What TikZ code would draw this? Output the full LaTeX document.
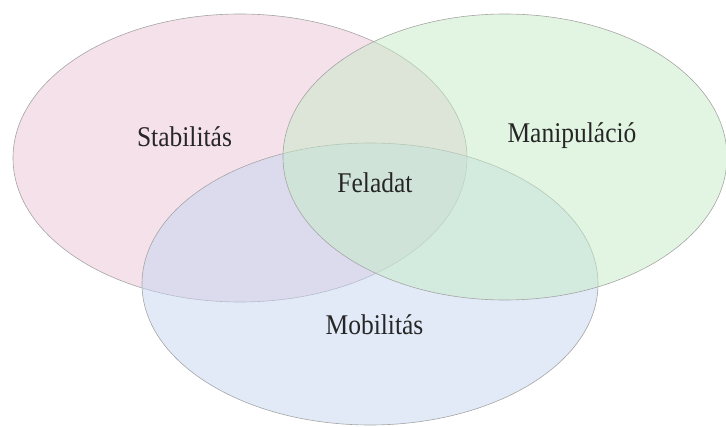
\documentclass[tikz,border=0pt]{standalone}
\usepackage{fontspec}
\setmainfont{Liberation Serif}
\definecolor{stabfill}{RGB}{235,195,213}
\definecolor{manfill}{RGB}{197,235,197}
\definecolor{mobfill}{RGB}{197,213,242}
\definecolor{vennline}{RGB}{165,165,165}
\newcommand{\talltext}[1]{\scalebox{1}[1.12]{#1}}
\tikzset{
  venn/.style={draw=vennline, line width=0.6pt, fill opacity=0.5},
  lbl/.style={anchor=base, inner sep=0pt, text=black!85, font=\fontsize{25.5}{30}\selectfont}
}
\begin{document}
\begin{tikzpicture}[x=1pt,y=1pt]
    \useasboundingbox (0,0) rectangle (726,426);

    % circles
    \draw[venn, fill=stabfill] (240,268) ellipse [x radius=227, y radius=144];
    \draw[venn, fill=mobfill] (370,142) ellipse [x radius=228, y radius=141];
    \draw[venn, fill=manfill] (505,269) ellipse [x radius=222, y radius=143];

    % labels
    \node[lbl] (stab) at (184.5,279) {\talltext{Stabilitás}};
    \node[lbl] (man) at (572,283) {\talltext{Manipuláció}};
    \node[lbl] (fel) at (375,233) {\talltext{Feladat}};
    \node[lbl] (mob) at (374.5,91) {\talltext{Mobilitás}};

\end{tikzpicture}
\end{document}
